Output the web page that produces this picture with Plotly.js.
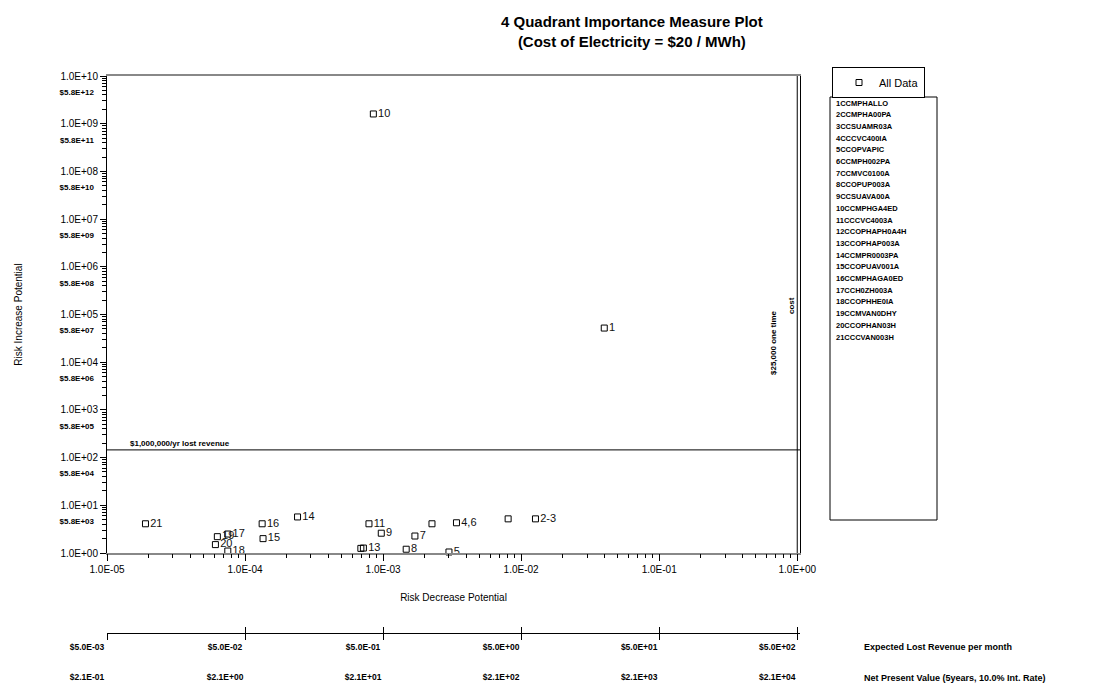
<!DOCTYPE html>
<html><head><meta charset="utf-8">
<script src="https://cdn.plot.ly/plotly-3.0.1.min.js"></script>
<style>html,body{margin:0;padding:0;background:#fff}#chart{width:1104px;height:689px}</style>
</head><body><div id="chart"></div>
<script>
// ---- data ----
const pointLabels  = ["10","1","21","16","14","15","19","17","20","18","11","9","","13","","7","8","5","4,6","","2-3"];
const riskDecrease = [8.5e-4,4.0e-2,1.9e-5,1.33e-4,2.4e-4,1.35e-4,6.3e-5,7.5e-5,6.1e-5,7.5e-5,7.9e-4,9.7e-4,6.9e-4,7.2e-4,2.26e-3,1.7e-3,1.47e-3,3.0e-3,3.4e-3,8.05e-3,1.27e-2];
const riskIncrease = [1.6e9,5.2e4,4.1,4.1,5.7,2.0,2.2,2.5,1.5,1.1,4.1,2.6,1.25,1.27,4.1,2.27,1.2,1.05,4.3,5.2,5.2];
const componentCodes = ["1CCMPHALLO","2CCMPHA00PA","3CCSUAMR03A","4CCCVC400IA","5CCOPVAPIC","6CCMPH002PA","7CCMVC0100A","8CCOPUP003A","9CCSUAVA00A","10CCMPHGA4ED","11CCCVC4003A","12CCOPHAPH0A4H","13CCOPHAP003A","14CCMPR0003PA","15CCOPUAV001A","16CCMPHAGA0ED","17CCH0ZH003A","18CCOPHHE0IA","19CCMVAN0DHY","20CCOPHAN03H","21CCCVAN003H"];
const xTickVals = [1e-5,1e-4,1e-3,1e-2,1e-1,1];
const xTickText = ["1.0E-05","1.0E-04","1.0E-03","1.0E-02","1.0E-01","1.0E+00"];
const yTickVals = [1,10,1e2,1e3,1e4,1e5,1e6,1e7,1e8,1e9,1e10];
const yTickText = ["1.0E+00","1.0E+01","1.0E+02","1.0E+03","1.0E+04","1.0E+05","1.0E+06","1.0E+07","1.0E+08","1.0E+09","1.0E+10"];
const yCostVals = [10,1e2,1e3,1e4,1e5,1e6,1e7,1e8,1e9,1e10];
const yCostText = ["$5.8E+03","$5.8E+04","$5.8E+05","$5.8E+06","$5.8E+07","$5.8E+08","$5.8E+09","$5.8E+10","$5.8E+11","$5.8E+12"];
const revenueText = ["$5.0E-03","$5.0E-02","$5.0E-01","$5.0E+00","$5.0E+01","$5.0E+02"];
const npvText = ["$2.1E-01","$2.1E+00","$2.1E+01","$2.1E+02","$2.1E+03","$2.1E+04"];
const lostRevenueThreshold = 145;   // $1,000,000/yr lost revenue
const oneTimeCostThreshold = 1.0;   // $25,000 one time cost

// ---- geometry helpers (pixel -> paper) ----
const W = 1104, H = 689, L = 107, R = 304, T = 76, B = 0;
const pw = W - L - R, ph = H - T - B;
const px = x => (x - L) / pw;
const py = y => (H - B - y) / ph;

const FONT = "Liberation Sans, Arial, sans-serif";
const NARROW = "'Liberation Sans Narrow', 'Liberation Sans', Arial, sans-serif";
const yDomain = [py(553), 1];
const logX = [-5, 0.02], logY = [0, 10];

const traces = [{
  type: 'scatter', mode: 'markers+text', name: 'All Data',
  x: riskDecrease, y: riskIncrease, text: pointLabels,
  textposition: 'middle right', textfont: {family: FONT, size: 11, color: '#111'},
  marker: {symbol: 'square-open', size: 6, color: '#000', line: {width: 1, color: '#000'}},
  cliponaxis: false, hoverinfo: 'x+y+text'
}];
// empty carrier traces so that the extra (overlay / free) axes get drawn
[['x2','y'],['x3','y'],['x4','y'],['x5','y'],['x','y2'],['x','y3']].forEach(([xa, ya]) => {
  traces.push({type: 'scatter', mode: 'markers', x: [], y: [], xaxis: xa, yaxis: ya,
               showlegend: false, hoverinfo: 'skip'});
});

const annotations = [
  {xref: 'paper', yref: 'paper', x: px(632), y: py(31), xanchor: 'center', yanchor: 'middle',
   text: '4 Quadrant Importance Measure Plot<br>(Cost of Electricity = $20 / MWh)', showarrow: false,
   font: {family: FONT, size: 15, color: '#000', weight: 'bold'}},
  {xref: 'paper', yref: 'y', x: px(128), y: Math.log10(lostRevenueThreshold), xanchor: 'left', yanchor: 'bottom',
   yshift: 0, text: '$1,000,000/yr lost revenue', showarrow: false,
   font: {family: NARROW, size: 8, color: '#000', weight: 'bold'}},
  {xref: 'paper', yref: 'paper', x: px(773), y: py(343), xanchor: 'center', yanchor: 'middle',
   text: '$25,000 one time', textangle: -90, showarrow: false,
   font: {family: NARROW, size: 8, color: '#000', weight: 'bold'}},
  {xref: 'paper', yref: 'paper', x: px(791), y: py(306), xanchor: 'center', yanchor: 'middle',
   text: 'cost', textangle: -90, showarrow: false,
   font: {family: NARROW, size: 8, color: '#000', weight: 'bold'}},
  {xref: 'paper', yref: 'paper', x: px(862), y: py(647), xanchor: 'left', yanchor: 'middle',
   text: 'Expected Lost Revenue per month', showarrow: false,
   font: {family: NARROW, size: 9, color: '#000', weight: 'bold'}},
  {xref: 'paper', yref: 'paper', x: px(862), y: py(678), xanchor: 'left', yanchor: 'middle',
   text: 'Net Present Value (5years, 10.0% Int. Rate)', showarrow: false,
   font: {family: NARROW, size: 9, color: '#000', weight: 'bold'}}
];
componentCodes.forEach((c, i) => {
  annotations.push({xref: 'paper', yref: 'paper', x: px(834), y: py(103 + i * 11.7),
    xanchor: 'left', yanchor: 'middle', text: c, showarrow: false,
    font: {family: NARROW, size: 7.5, color: '#000', weight: 'bold'}});
});

const shapes = [
  {type: 'line', xref: 'paper', yref: 'y', x0: 0, x1: 1, y0: lostRevenueThreshold, y1: lostRevenueThreshold,
   line: {color: '#000', width: 1}},
  {type: 'line', xref: 'x', yref: 'paper', x0: oneTimeCostThreshold, x1: oneTimeCostThreshold, y0: yDomain[0], y1: 1,
   line: {color: '#000', width: 1}},
  {type: 'rect', xref: 'paper', yref: 'paper', x0: px(830), x1: px(937), y0: py(520), y1: py(97),
   line: {color: '#000', width: 1}, fillcolor: 'rgba(0,0,0,0)'}
];

const baseLog = {type: 'log', showgrid: false, zeroline: false, fixedrange: true};
const layout = {
  width: W, height: H, margin: {l: L, r: R, t: T, b: B},
  paper_bgcolor: '#fff', plot_bgcolor: '#fff',
  font: {family: FONT, color: '#000'},
  showlegend: true,
  legend: {x: px(832), y: py(67), xanchor: 'left', yanchor: 'top', bordercolor: '#000', borderwidth: 1,
           font: {family: FONT, size: 11, color: '#000'}, bgcolor: '#fff', itemwidth: 30,
           tracegroupgap: 0, indentation: 6},
  xaxis: Object.assign({}, baseLog, {range: logX, domain: [0, 1], anchor: 'y',
    showline: true, linecolor: '#888', linewidth: 2, mirror: true,
    ticks: 'outside', ticklen: 6, tickcolor: '#000', tickmode: 'array', tickvals: xTickVals, ticktext: xTickText,
    tickfont: {family: FONT, size: 10, color: '#000'},
    title: {text: 'Risk Decrease Potential', font: {family: FONT, size: 10, color: '#000'}, standoff: 20}}),
  yaxis: Object.assign({}, baseLog, {range: logY, domain: yDomain, anchor: 'x',
    showline: true, linecolor: '#000', linewidth: 1, mirror: true,
    ticks: 'outside', ticklen: 6, tickcolor: '#000', tickmode: 'array', tickvals: yTickVals, ticktext: yTickText,
    tickfont: {family: FONT, size: 10, color: '#000'},
    title: {text: 'Risk Increase Potential', font: {family: FONT, size: 10, color: '#000'}, standoff: 35}}),
  yaxis2: Object.assign({}, baseLog, {range: logY, overlaying: 'y', anchor: 'x', side: 'left',
    showline: false, ticks: '', tickmode: 'array', tickvals: yCostVals, ticktext: yCostText,
    ticklabelshift: 16, ticklabelstandoff: 12,
    tickfont: {family: NARROW, size: 8, color: '#000', weight: 'bold'}}),
  yaxis3: Object.assign({}, baseLog, {range: logY, overlaying: 'y', anchor: 'x', side: 'left',
    showline: false, ticks: 'outside', ticklen: 4, tickcolor: '#000', dtick: 'D1', showticklabels: false}),
  xaxis4: Object.assign({}, baseLog, {range: logX, overlaying: 'x', anchor: 'y', side: 'bottom',
    showline: false, ticks: 'outside', ticklen: 4, tickcolor: '#000', dtick: 'D1', showticklabels: false}),
  xaxis2: Object.assign({}, baseLog, {range: logX, overlaying: 'x', anchor: 'free', position: py(633), side: 'bottom',
    showline: true, linecolor: '#000', linewidth: 1,
    ticks: 'outside', ticklen: 6, tickcolor: '#000', tickmode: 'array', tickvals: xTickVals, ticktext: revenueText,
    ticklabelshift: -20, tickfont: {family: NARROW, size: 8.5, color: '#000', weight: 'bold'}}),
  xaxis3: Object.assign({}, baseLog, {range: logX, overlaying: 'x', anchor: 'free', position: py(633), side: 'bottom',
    showline: false, ticks: 'inside', ticklen: 6, tickcolor: '#000', tickmode: 'array', tickvals: xTickVals,
    showticklabels: false}),
  xaxis5: Object.assign({}, baseLog, {range: logX, overlaying: 'x', anchor: 'free', position: py(670), side: 'bottom',
    showline: false, ticks: '', tickmode: 'array', tickvals: xTickVals, ticktext: npvText,
    ticklabelshift: -20, tickfont: {family: NARROW, size: 8.5, color: '#000', weight: 'bold'}}),
  annotations: annotations,
  shapes: shapes
};

Plotly.newPlot('chart', traces, layout, {displayModeBar: false, staticPlot: true});
</script>
</body></html>
